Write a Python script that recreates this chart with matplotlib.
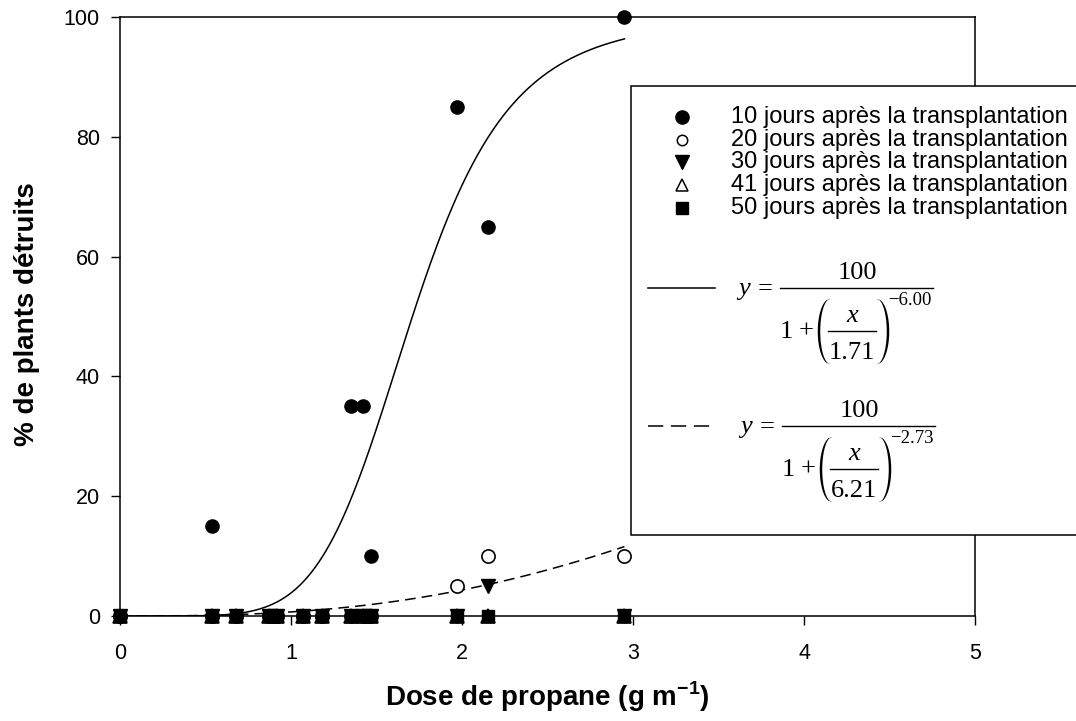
import numpy as np
import matplotlib
matplotlib.use('Agg')
import matplotlib.pyplot as plt
from matplotlib.lines import Line2D
from matplotlib.patches import Rectangle, Polygon

# Data.
doses = [0, 0.54, 0.68, 0.87, 0.92, 1.07, 1.18, 1.35, 1.42, 1.47, 1.97, 2.15, 2.95]
jours_10 = [0, 15, 0, 0, 0, 0, 0, 35, 35, 10, 85, 65, 100]
jours_20 = [0, 0, 0, 0, 0, 0, 0, 0, 0, 0, 5, 10, 10]
jours_30 = [0, 0, 0, 0, 0, 0, 0, 0, 0, 0, 0, 5, 0]
jours_41 = [0, 0, 0, 0, 0, 0, 0, 0, 0, 0, 0, 0, 0]
jours_50 = [0, 0, 0, 0, 0, 0, 0, 0, 0, 0, 0, 0, 0]
doses_zero_10 = [0.54]  # 10-day zero point hidden under the others

labels = ['10 jours après la transplantation',
          '20 jours après la transplantation',
          '30 jours après la transplantation',
          '41 jours après la transplantation',
          '50 jours après la transplantation']

# Fitted log-logistic curves (x50, slope).
fit_solid = (1.71, -6.00)
fit_dashed = (6.21, -2.73)

plt.rcParams['font.family'] = ['Liberation Sans', 'DejaVu Sans']
plt.rcParams['mathtext.fontset'] = 'custom'
plt.rcParams['mathtext.rm'] = 'Liberation Sans'
plt.rcParams['mathtext.bf'] = 'Liberation Sans:bold'

W, H = 1076, 721
fig = plt.figure(figsize=(W / 100, H / 100), dpi=100)
ax = fig.add_axes([120 / W, 1 - 616 / H, (975 - 120) / W, (616 - 17) / H])


# Pixel helpers for the hand-drawn legend.
def fx(px):
    return px / W


def fy(py):
    return 1 - py / H


# Curves.
xs = np.linspace(0.0005, 2.95, 400)
for (c, b), ls in [(fit_solid, '-'), (fit_dashed, (0, (7, 4)))]:
    ys = 100 / (1 + (xs / c) ** b)
    ax.plot(xs, ys, color='black', lw=1.1, linestyle=ls, zorder=2)

ms = 9.5
ax.plot(doses, jours_10, 'o', color='black', ms=ms, zorder=3, clip_on=False)
ax.plot(doses_zero_10, [0], 'o', color='black', ms=ms, zorder=3, clip_on=False)
ax.plot(doses, jours_20, 'o', mfc='white', mec='black', mew=1.2, ms=ms, zorder=4, clip_on=False)
ax.plot(doses, jours_30, 'v', color='black', ms=10, zorder=5, clip_on=False)
ax.plot(doses, jours_41, '^', mfc='white', mec='black', mew=1.2, ms=10, zorder=5, clip_on=False)
ax.plot(doses, jours_50, 's', color='black', ms=9, zorder=6, clip_on=False)

ax.set_xlim(0, 5)
ax.set_ylim(0, 100)
ax.set_xticks(range(0, 6))
ax.set_yticks(range(0, 101, 20))
ax.tick_params(direction='out', length=6.5, width=1, labelsize=15.5)
ax.tick_params(axis='x', pad=13)
ax.tick_params(axis='y', pad=8)
ax.tick_params(top=False, right=False)
for s in ax.spines.values():
    s.set_linewidth(1.1)

fig.text(fx(547), fy(706), 'Dose de propane (g m$^{\\mathbf{-1}}$)',
         ha='center', va='baseline', fontsize=20, fontweight='bold')
fig.text(fx(27), fy(314), '% de plants détruits', rotation=90,
         ha='center', va='center', fontsize=20, fontweight='bold')

# Legend box.
fig.add_artist(Rectangle((fx(631), fy(535)), fx(W + 10) - fx(631), fy(86) - fy(535),
                         transform=fig.transFigure, facecolor='white',
                         edgecolor='black', lw=1.1, zorder=10))

markers = [dict(marker='o', color='black', ms=9.5),
           dict(marker='o', mfc='white', mec='black', mew=1.1, ms=7.5),
           dict(marker='v', color='black', ms=9.5),
           dict(marker='^', mfc='white', mec='black', mew=1.1, ms=8.5),
           dict(marker='s', color='black', ms=8)]
rows = [117, 140, 162, 185, 208]
for m, lab, r in zip(markers, labels, rows):
    fig.add_artist(Line2D([fx(682)], [fy(r)], transform=fig.transFigure,
                          linestyle='none', zorder=11, **m))
    fig.text(fx(731), fy(r), lab, ha='left', va='center', fontsize=17, zorder=12)

fig.add_artist(Line2D([fx(648), fx(715)], [fy(288), fy(288)], transform=fig.transFigure,
                      color='black', lw=1.1, zorder=11))
fig.add_artist(Line2D([fx(648), fx(710)], [fy(426), fy(426)], transform=fig.transFigure,
                      color='black', lw=1.1, linestyle=(0, (10, 5)), zorder=11))

serif = ['Liberation Serif', 'DejaVu Serif']


def txt(px, py, s, size=19, ha='left', style='normal'):
    fig.text(fx(px), fy(py), s, ha=ha, va='baseline', fontsize=size,
             family=serif, style=style, zorder=12)


def hbar(x0, x1, py):
    fig.add_artist(Line2D([fx(x0), fx(x1)], [fy(py), fy(py)], transform=fig.transFigure,
                          color='black', lw=1.0, zorder=12))


def paren(xl, xr, yt, yb, left=True):
    t = np.linspace(-1, 1, 60)
    s = np.sqrt(1 - t ** 2)
    th = 0.5 + 2.0 * s
    w = xr - xl
    if left:
        xc = xr - 1 - (w - 3) * s
    else:
        xc = xl + 1 + (w - 3) * s
    yy = (yt + yb) / 2 + t * (yb - yt) / 2
    pts = np.concatenate([np.column_stack([xc - th / 2, yy]),
                          np.column_stack([xc + th / 2, yy])[::-1]])
    pts = np.column_stack([fx(pts[:, 0]), fy(pts[:, 1])])
    fig.add_artist(Polygon(pts, closed=True, transform=fig.transFigure,
                           facecolor='black', edgecolor='none', zorder=12))


def equation(L, Y, c, b):
    txt(L - 42, Y + 7, 'y', style='italic')
    txt(L - 15, Y + 7, '=', ha='center')
    hbar(L, L + 153, Y)
    txt(L + 77, Y - 9, '100', ha='center')
    txt(L, Y + 50, '1')
    txt(L + 26, Y + 50, '+', ha='center')
    paren(L + 37, L + 51, Y + 11, Y + 76, left=True)
    txt(L + 72, Y + 34, 'x', ha='center', style='italic')
    hbar(L + 48, L + 96, Y + 43)
    txt(L + 72, Y + 71, '%.2f' % c, ha='center')
    paren(L + 96, L + 110, Y + 11, Y + 76, left=False)
    txt(L + 108, Y + 17, '\u2212%.2f' % abs(b), size=13.5)


equation(780, 288, *fit_solid)
equation(782, 426, *fit_dashed)

fig.savefig('out.png', dpi=100)
